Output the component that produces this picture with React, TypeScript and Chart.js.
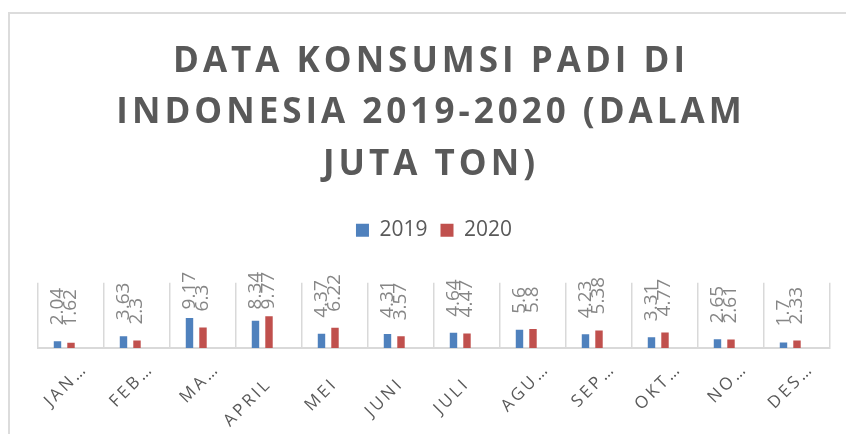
import React, { useEffect, useRef } from "react";
import { Chart, registerables, CategoryScale } from "chart.js";

Chart.register(...registerables);

class SpacedCategoryScale extends CategoryScale {
  static id = "spacedCategory";
  static defaults = CategoryScale.defaults;
  _computeLabelItems(chartArea: any) {
    const items = (CategoryScale.prototype as any)._computeLabelItems.call(this, chartArea);
    // truncated labels are shifted along their diagonal, as the spreadsheet lays them out
    items.forEach((item: any) => {
      if (String(item.label).includes("…")) {
        const t = item.options.translation;
        item.options.translation = [t[0] + 14, t[1] - 15];
      }
    });
    return items;
  }
  drawLabels(chartArea: any) {
    const ctx: any = (this as any).ctx;
    ctx.save();
    ctx.letterSpacing = "3px";
    super.drawLabels(chartArea);
    ctx.restore();
  }
}
Chart.register(SpacedCategoryScale as any);

const titleLines = ["DATA KONSUMSI PADI DI", "INDONESIA 2019-2020 (DALAM", "JUTA TON)"];
const categories = ["JANUARI", "FEBRUARI", "MARET", "APRIL", "MEI", "JUNI", "JULI", "AGUSTUS", "SEPTEMBER", "OKTOBER", "NOVEMBER", "DESEMBER"];
const tickLabels = ["JAN…", "FEB…", "MA…", "APRIL", "MEI", "JUNI", "JULI", "AGU…", "SEP…", "OKT…", "NO…", "DES…"];
const seriesNames = ["2019", "2020", ""];
const values2019 = [2.04, 3.63, 9.17, 8.34, 4.37, 4.31, 4.64, 5.6, 4.23, 3.31, 2.65, 1.7];
const values2020 = [1.62, 2.3, 6.3, 9.77, 6.22, 3.57, 4.47, 5.8, 5.38, 4.77, 2.61, 2.33];
// third (empty) series of the source sheet: it keeps its slot in each group but has no bars
const valuesEmpty: number[] = [];
const seriesColors = ["#4F81BD", "#C0504D", "#9BBB59"];

const FONT = "'Open Sans', 'Liberation Sans', sans-serif";

const extrasPlugin = {
  id: "extras",
  beforeInit(chart: any) {
    const legend = chart.legend;
    if (legend) {
      const origFit = legend.fit.bind(legend);
      legend.fit = function () {
        origFit();
        this.height += 32;
      };
    }
    const tb = chart.titleBlock;
    if (tb) {
      const origDraw = tb.draw.bind(tb);
      tb.draw = function () {
        const ctx: any = chart.ctx;
        ctx.save();
        ctx.letterSpacing = "4px";
        ctx.translate(-3, 0);
        origDraw();
        ctx.restore();
      };
    }
  },
  afterDatasetsDraw(chart: any) {
    const ctx: any = chart.ctx;
    const area = chart.chartArea;
    ctx.save();
    ctx.font = `19px ${FONT}`;
    ctx.fillStyle = "#868686";
    ctx.textAlign = "left";
    ctx.textBaseline = "middle";
    chart.data.datasets.forEach((ds: any, di: number) => {
      const meta = chart.getDatasetMeta(di);
      meta.data.forEach((bar: any, i: number) => {
        const v = ds.data[i];
        if (v === null || v === undefined) return;
        const txt = String(v);
        const w = ctx.measureText(txt).width;
        let bottom = bar.y - 16;
        const limit = area.top - 11;
        if (bottom - w < limit) bottom = limit + w;
        ctx.save();
        ctx.translate(bar.x, bottom);
        ctx.rotate(-Math.PI / 2);
        ctx.fillText(txt, 0, 0);
        ctx.restore();
      });
    });
    ctx.restore();
  },
};

export default function App() {
  const ref = useRef<HTMLCanvasElement | null>(null);
  useEffect(() => {
    if (!ref.current) return;
    const common = { borderWidth: 0, categoryPercentage: 0.614, barPercentage: 0.55 };
    const chart = new Chart(ref.current, {
      type: "bar",
      data: {
        labels: categories,
        datasets: [
          { label: seriesNames[0], data: values2019, backgroundColor: seriesColors[0], ...common },
          { label: seriesNames[1], data: values2020, backgroundColor: seriesColors[1], ...common },
          { label: seriesNames[2], data: valuesEmpty, backgroundColor: seriesColors[2], ...common },
        ],
      },
      options: {
        responsive: false,
        animation: false,
        devicePixelRatio: 1,
        layout: { padding: { left: 38, right: 16, top: 0, bottom: 0 } },
        plugins: {
          title: {
            display: true,
            text: titleLines,
            color: "#595959",
            font: { family: FONT, size: 35, weight: "bold", lineHeight: "51.6px" },
            padding: { top: 36, bottom: 16 },
          },
          legend: {
            display: true,
            position: "top",
            labels: {
              boxWidth: 13,
              boxHeight: 13,
              padding: 13,
              color: "#595959",
              font: { family: FONT, size: 21 },
              filter: (item: any) => item.datasetIndex < 2,
            },
          },
          tooltip: { enabled: false },
        },
        scales: {
          x: {
            type: "spacedCategory" as any,
            grid: { display: true, color: "#d9d9d9", lineWidth: 1.5, drawTicks: false, offset: true },
            border: { display: true, color: "#d9d9d9", width: 2 },
            ticks: {
              autoSkip: false,
              maxRotation: 45,
              minRotation: 45,
              padding: 26,
              color: "#595959",
              font: { family: FONT, size: 17 },
              callback: (_v: any, i: number) => tickLabels[i],
            },
            afterFit: (scale: any) => {
              scale.height = 86;
            },
          },
          y: {
            display: false,
            min: 0,
            max: 20,
          },
        },
      },
      plugins: [extrasPlugin],
    } as any);
    return () => chart.destroy();
  }, []);

  return (
    <div style={{ position: "fixed", left: 0, top: 0, width: 846, height: 434, overflow: "hidden", background: "#ffffff" }}>
      <div
        style={{
          position: "absolute",
          left: 8,
          top: 12,
          width: 900,
          height: 500,
          border: "2px solid #dcdcdc",
          boxSizing: "border-box",
        }}
      />
      <canvas ref={ref} width={846} height={434} style={{ position: "absolute", left: 0, top: 0 }} />
    </div>
  );
}
